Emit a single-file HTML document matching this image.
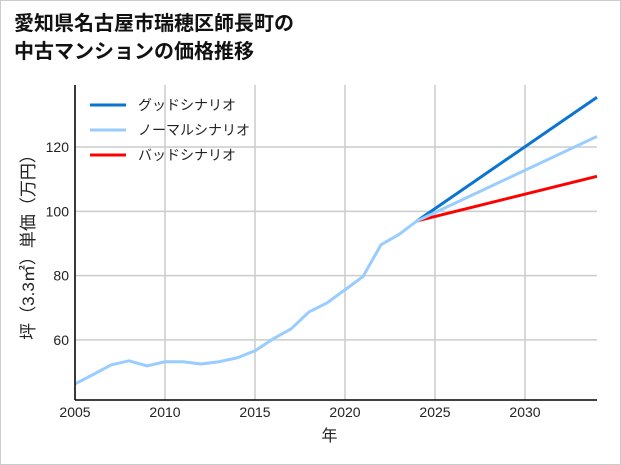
<!DOCTYPE html>
<html><head><meta charset="utf-8"><style>
body{margin:0;background:#fff;font-family:"Liberation Sans","Noto Sans CJK JP",sans-serif}
#wrap{position:relative;width:619px;height:463px;border:1px solid #ccc;background:#fff}
h1{position:absolute;left:13px;top:7px;margin:0;font-size:20px;line-height:28px;font-weight:bold;color:#111;font-family:"Noto Sans CJK JP",sans-serif}
</style></head><body>
<div id="wrap">
<h1>愛知県名古屋市瑞穂区師長町の<br>中古マンションの価格推移</h1>
<svg id="chart" width="621" height="465" style="position:absolute;left:-1px;top:-1px"></svg>
</div>
<script>
const years=[2005,2006,2007,2008,2009,2010,2011,2012,2013,2014,2015,2016,2017,2018,2019,2020,2021,2022,2023,2024];
const normalHist=[46.3,49.2,52.2,53.5,51.9,53.2,53.2,52.5,53.2,54.4,56.6,60.3,63.4,68.7,71.5,75.6,79.7,89.6,92.8,97];
const projYears=[2024,2034];
const goodProj=[97,135.5];
const normalProj=[97,123.3];
const badProj=[97,110.9];
const xTicks=[2005,2010,2015,2020,2025,2030];
const yTicks=[60,80,100,120];
const legendLabels=["グッドシナリオ","ノーマルシナリオ","バッドシナリオ"];
const legendColors=["#0a74d0","#99ccff","#ff0000"];

const NS="http://www.w3.org/2000/svg";
const svg=document.getElementById('chart');
const L=75,R=597,T=85,B=400,x0=2005,x1=2034,y0=41.3,y1=139.3;
const X=v=>L+(v-x0)/(x1-x0)*(R-L);
const Y=v=>B-(v-y0)/(y1-y0)*(B-T);
function mk(t,a){const e=document.createElementNS(NS,t);for(const k in a)e.setAttribute(k,a[k]);svg.appendChild(e);return e;}
xTicks.forEach(t=>{
  const g=mk('line',{x1:X(t),x2:X(t),y1:T,y2:B,stroke:'#ccc','stroke-width':1.5});
  
  
  const tx=mk('text',{x:X(t),y:B+17,'text-anchor':'middle','font-size':14,fill:'#222'});
  tx.textContent=t;
  
  
});
yTicks.forEach(t=>{
  const g=mk('line',{x1:L,x2:R,y1:Y(t),y2:Y(t),stroke:'#ccc','stroke-width':1.5});
  
  
  const tx=mk('text',{x:L-6,y:Y(t)+5,'text-anchor':'end','font-size':14,fill:'#222'});
  tx.textContent=t;
  
  
});
function line(xs,ys,c,name){
  const p=mk('polyline',{points:xs.map((v,i)=>X(v)+','+Y(ys[i])).join(' '),fill:'none',stroke:c,'stroke-width':3,'stroke-linejoin':'round'});
  
  
}
line(projYears,badProj,legendColors[2],'bad-scenario-line');
line(projYears,goodProj,legendColors[0],'good-scenario-line');
line(projYears,normalProj,legendColors[1],'normal-scenario-line');
line(years,normalHist,legendColors[1],'historical-line');
const ax1=mk('line',{x1:L,x2:L,y1:T,y2:B,stroke:'#000','stroke-width':1.5});


const ax2=mk('line',{x1:L,x2:R,y1:B,y2:B,stroke:'#000','stroke-width':1.5});


legendLabels.forEach((lab,i)=>{
  const y=105+i*25;
  const l=mk('line',{x1:90,x2:126,y1:y,y2:y,stroke:legendColors[i],'stroke-width':3});
  
  
  const t=mk('text',{x:138,y:y+5,'font-size':14,fill:'#222'});
  t.textContent=lab;
  
  
});
const xt=mk('text',{x:(L+524)/2+30,y:441,'text-anchor':'middle','font-size':16,fill:'#222'});
xt.textContent='年';


const yt=mk('text',{x:0,y:0,'text-anchor':'middle','font-size':17,fill:'#222',transform:'translate(34,243) rotate(-90)'});
yt.textContent='坪（3.3㎡）単価（万円）';


</script>
</body></html>
